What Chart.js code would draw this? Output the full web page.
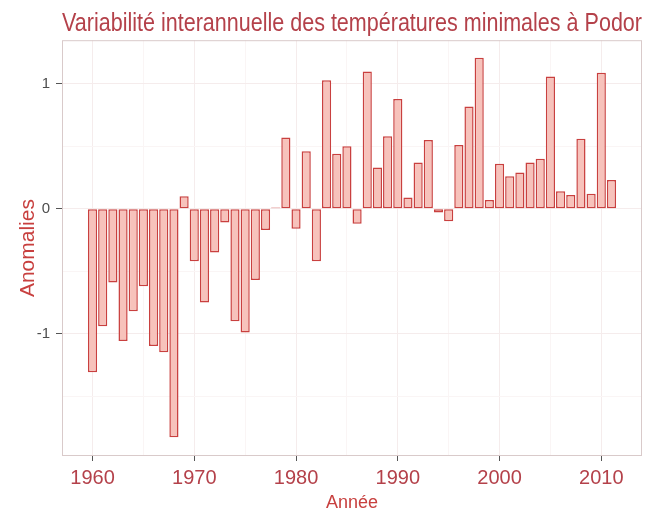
<!DOCTYPE html>
<html>
<head>
<meta charset="utf-8">
<script src="https://cdn.jsdelivr.net/npm/chart.js@4"></script>
<style>
  html, body { margin: 0; padding: 0; background: #ffffff; }
  canvas { display: block; }
</style>
</head>
<body>
<canvas id="chart" width="648" height="518"></canvas>
<script>
const years = [
  1960, 1961, 1962, 1963, 1964, 1965, 1966, 1967, 1968, 1969,
  1970, 1971, 1972, 1973, 1974, 1975, 1976, 1977, 1978, 1979,
  1980, 1981, 1982, 1983, 1984, 1985, 1986, 1987, 1988, 1989,
  1990, 1991, 1992, 1993, 1994, 1995, 1996, 1997, 1998, 1999,
  2000, 2001, 2002, 2003, 2004, 2005, 2006, 2007, 2008, 2009,
  2010, 2011
];
const anomalies = [
  -1.31, -0.94, -0.59, -1.06, -0.82, -0.62, -1.10, -1.15, -1.83, 0.10,
  -0.42, -0.75, -0.35, -0.11, -0.90, -0.99, -0.57, -0.17, 0.01, 0.57,
  -0.16, 0.46, -0.42, 1.03, 0.44, 0.50, -0.12, 1.10, 0.33, 0.58,
  0.88, 0.09, 0.37, 0.55, -0.03, -0.10, 0.51, 0.82, 1.21, 0.07,
  0.36, 0.26, 0.29, 0.37, 0.40, 1.06, 0.14, 0.11, 0.56, 0.12,
  1.09, 0.23
];
const xTicks = [1960, 1970, 1980, 1990, 2000, 2010];
const xMinorTicks = [1965, 1975, 1985, 1995, 2005];
const yTicks = [-1, 0, 1];
const yMinorTicks = [-1.5, -0.5, 0.5];

const FONT = "'Liberation Sans Narrow', 'Liberation Sans', Arial, sans-serif";
const RED_DARK = '#b4414a';
const RED = '#c8403f';

function isMajor(list, v) {
  return list.some((t) => Math.abs(t - v) < 1e-6);
}

// ggplot-like panel border around the plotting area
const panelBorder = {
  id: 'panelBorder',
  afterDatasetsDraw(chart) {
    const { ctx, chartArea: a } = chart;
    ctx.save();
    ctx.strokeStyle = '#d9caca';
    ctx.lineWidth = 1;
    ctx.strokeRect(a.left + 0.5, a.top + 0.5, a.right - a.left - 1, a.bottom - a.top - 1);
    ctx.restore();
  }
};

new Chart(document.getElementById('chart'), {
  type: 'bar',
  data: {
    datasets: [{
      data: years.map((y, i) => ({ x: y, y: anomalies[i] })),
      backgroundColor: '#f7c2bb',
      borderColor: '#c9403f',
      borderWidth: 1.5,
      borderSkipped: false,
      inflateAmount: 0,
      barPercentage: 0.9,
      categoryPercentage: 1.0
    }]
  },
  options: {
    responsive: false,
    devicePixelRatio: 1,
    animation: false,
    layout: { padding: { left: 0, right: 6, top: 0, bottom: 0 } },
    plugins: {
      legend: { display: false },
      tooltip: { enabled: false },
      title: {
        display: true,
        text: 'Variabilité interannuelle des températures minimales à Podor',
        fullSize: false,
        align: 'center',
        color: RED_DARK,
        font: { family: FONT, size: 26, weight: 'normal' },
        padding: { top: 8, bottom: 1 }
      }
    },
    scales: {
      x: {
        type: 'linear',
        min: 1957,
        max: 2014,
        offset: false,
        afterFit: (s) => { s.height = 62; },
        afterBuildTicks: (s) => {
          s.ticks = xTicks.concat(xMinorTicks).sort((a, b) => a - b).map((v) => ({ value: v }));
        },
        ticks: {
          autoSkip: false,
          maxRotation: 0,
          padding: 5,
          color: RED_DARK,
          font: { family: FONT, size: 20 },
          callback: (v) => (isMajor(xTicks, v) ? String(v) : '')
        },
        grid: {
          offset: false,
          color: (c) => (c.tick && isMajor(xTicks, c.tick.value) ? '#f5ecec' : '#faf5f5'),
          tickColor: (c) => (c.tick && isMajor(xTicks, c.tick.value) ? '#555555' : 'rgba(0,0,0,0)'),
          tickLength: 5
        },
        border: { display: false },
        title: {
          display: true,
          text: 'Année',
          color: RED,
          font: { family: FONT, size: 18 },
          padding: { top: 0, bottom: 4 }
        }
      },
      y: {
        min: -1.98,
        max: 1.35,
        afterFit: (s) => { s.width = 62; },
        afterBuildTicks: (s) => {
          s.ticks = yTicks.concat(yMinorTicks).sort((a, b) => a - b).map((v) => ({ value: v }));
        },
        ticks: {
          autoSkip: false,
          padding: 6,
          color: '#4d4d4d',
          font: { family: FONT, size: 15 },
          callback: (v) => (isMajor(yTicks, v) ? String(v) : '')
        },
        grid: {
          color: (c) => (c.tick && isMajor(yTicks, c.tick.value) ? '#f5ecec' : '#faf5f5'),
          tickColor: (c) => (c.tick && isMajor(yTicks, c.tick.value) ? '#555555' : 'rgba(0,0,0,0)'),
          tickLength: 6
        },
        border: { display: false },
        title: {
          display: true,
          text: 'Anomalies',
          color: RED,
          font: { family: FONT, size: 21 },
          padding: { top: 16, bottom: 0 }
        }
      }
    }
  },
  plugins: [panelBorder]
});
</script>
</body>
</html>
